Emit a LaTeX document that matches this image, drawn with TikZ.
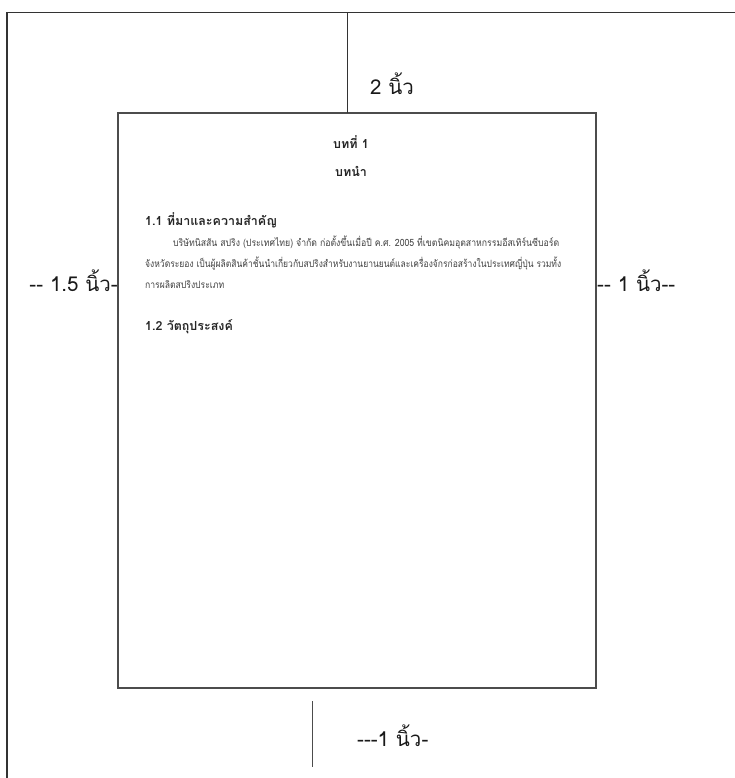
\documentclass[tikz,border=0pt]{standalone}
\usepackage{fontspec}
\newfontfamily\thaifont[Script=Thai]{Loma}
\tikzset{
  frameline/.style={line width=1.3pt, draw=black!80},
  pageframe/.style={draw=black!70, line width=1.6pt, minimum width=478pt, minimum height=575pt, inner sep=0pt},
  marglabel/.style={font=\thaifont\fontsize{20.5}{22}\selectfont, text=black!90, inner sep=0pt},
  heading/.style={font=\thaifont\bfseries\fontsize{12.5}{14}\selectfont, text=black!85, inner sep=0pt},
  subheading/.style={font=\thaifont\bfseries\fontsize{12.5}{14}\selectfont, text=black!85, inner sep=0pt, anchor=west},
  bodytext/.style={font=\thaifont\fontsize{10}{12}\selectfont, text=black!75, inner sep=0pt, anchor=west}
}
\begin{document}
\begin{tikzpicture}[x=1pt,y=-1pt]
\useasboundingbox (0,0) rectangle (735,778);
% outer frame
\coordinate (tl) at (7,12.5);
\coordinate (tr) at (735,12.5);
\coordinate (bl) at (7,778);
\draw[frameline] (tr) -- (tl) -- (bl);
% page
\node[pageframe] (page) at (357,400.5) {};
% top margin line
\coordinate (topA) at (347.5,12.5);
\coordinate (topB) at (347.5,113);
\draw[frameline] (topA) -- (topB);
% bottom margin line
\coordinate (botA) at (312.5,701);
\coordinate (botB) at (312.5,767);
\draw[frameline, draw=black!70] (botA) -- (botB);
% margin labels
\node[marglabel] (ltop) at (392,84) {2 นิ้ว};
\node[marglabel, anchor=east] (lleft) at (118,281) {-- 1.5 นิ้ว-};
\node[marglabel, anchor=west] (lright) at (597,281) {-- 1 นิ้ว--};
\node[marglabel, anchor=west] (lbot) at (357,736) {---1 นิ้ว-};
% page contents
\node[heading] (h1) at (351,142) {บทที่ 1};
\node[heading] (h2) at (351,171) {บทนำ};
\node[subheading] (s11) at (145,220) {1.1 ที่มาและความสำคัญ};
\node[bodytext] (p1) at (173,243) {\resizebox{386pt}{\height}{บริษัทนิสสัน สปริง (ประเทศไทย) จำกัด ก่อตั้งขึ้นเมื่อปี ค.ศ. 2005 ที่เขตนิคมอุตสาหกรรมอีสเทิร์นซีบอร์ด}};
\node[bodytext] (p2) at (145,264) {\resizebox{416pt}{\height}{จังหวัดระยอง เป็นผู้ผลิตสินค้าชั้นนำเกี่ยวกับสปริงสำหรับงานยานยนต์และเครื่องจักรก่อสร้างในประเทศญี่ปุ่น รวมทั้ง}};
\node[bodytext] (p3) at (145,285) {\resizebox{79pt}{\height}{การผลิตสปริงประเภท}};
\node[subheading] (s12) at (145,327) {1.2 วัตถุประสงค์};
\end{tikzpicture}
\end{document}
